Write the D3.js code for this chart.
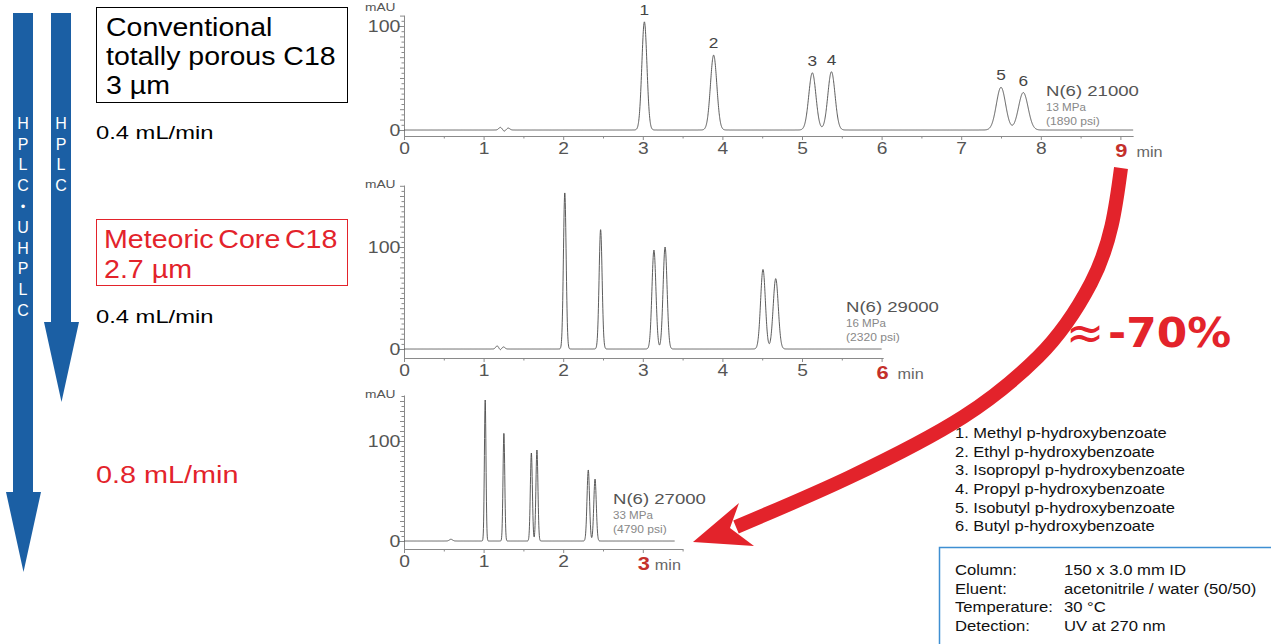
<!DOCTYPE html>
<html><head><meta charset="utf-8">
<script src="https://cdn.jsdelivr.net/npm/d3@7"></script>
<style>
html,body{margin:0;padding:0;background:#fff;}
svg{display:block;}
</style></head><body>
<svg id="c" width="1271" height="644"></svg>
<script>
// ================= DATA =================
const compounds = [
  "Methyl p-hydroxybenzoate",
  "Ethyl p-hydroxybenzoate",
  "Isopropyl p-hydroxybenzoate",
  "Propyl p-hydroxybenzoate",
  "Isobutyl p-hydroxybenzoate",
  "Butyl p-hydroxybenzoate"
];
const peakIds = [1, 2, 3, 4, 5, 6];

// Run 1: conventional totally porous C18 3 µm, 0.4 mL/min
const rt1 = [3.02, 3.89, 5.13, 5.37, 7.50, 7.78];     // retention time (min)
const h1  = [104, 72, 55, 56, 41, 36];                 // height (mAU)
const w1  = [0.032, 0.040, 0.045, 0.045, 0.058, 0.060];// peak sigma (min)
const art1T = [1.21, 1.26, 1.31], art1H = [2.5, -1.2, 1.8], art1W = [0.02, 0.015, 0.02];

// Run 2: Meteoric Core C18 2.7 µm, 0.4 mL/min
const rt2 = [2.02, 2.47, 3.14, 3.28, 4.51, 4.67];
const h2  = [153, 117, 97, 100, 78, 69];
const w2  = [0.017, 0.019, 0.025, 0.025, 0.030, 0.032];
const art2T = [1.17, 1.21, 1.25], art2H = [3.0, -1.0, 2.0], art2W = [0.018, 0.012, 0.018];

// Run 3: Meteoric Core C18 2.7 µm, 0.8 mL/min
const rt3 = [1.02, 1.255, 1.60, 1.67, 2.315, 2.40];
const h3  = [141, 108, 88, 91, 71, 62];
const w3  = [0.010, 0.011, 0.0127, 0.0127, 0.0157, 0.0157];
const art3T = [0.59], art3H = [1.7], art3W = [0.02];

const runEnd      = [9.16, 6.0, 3.4];
const lastTick    = [9, 6, 3];
const plateCounts = ["N(6) 21000", "N(6) 29000", "N(6) 27000"];
const pressMPa    = ["13 MPa", "16 MPa", "33 MPa"];
const pressPsi    = ["(1890 psi)", "(2320 psi)", "(4790 psi)"];
const yLabels     = [0, 100];

const conditionLabels = ["Column:", "Eluent:", "Temperature:", "Detection:"];
const conditionValues = ["150 x 3.0 mm ID", "acetonitrile / water (50/50)", "30 °C", "UV at 270 nm"];
const reduction = "-70%";

// ================= DRAWING =================
const FONT = "'Liberation Sans', Arial, Helvetica, sans-serif";
const RED = "#e3232b", BLUE = "#1b5fa4", TXT = "#555";
const svg = d3.select("#c").attr("font-family", FONT);

function label(g, x, y, s, o = {}) {
  const t = g.append("text")
    .attr("transform", `translate(${x},${y}) scale(${o.sx || 1},1)`)
    .attr("font-size", o.size || 14)
    .attr("fill", o.fill || "#000")
    .attr("text-anchor", o.anchor || "start")
    .text(s);
  if (o.weight) t.attr("font-weight", o.weight);
  if (o.family) t.attr("font-family", o.family);
  if (o.ws != null) t.attr("word-spacing", o.ws);
  return t;
}

// ---- blue arrows ----
const blueArrows = [
  {sl: 13, sr: 33, hl: 6, hr: 41, top: 13, ht: 492, tip: 572, letters: ["H","P","L","C","•","U","H","P","L","C"]},
  {sl: 51, sr: 71, hl: 44, hr: 79, top: 13, ht: 322, tip: 402, letters: ["H","P","L","C"]}
];
blueArrows.forEach(a => {
  const cx = (a.hl + a.hr) / 2;
  const p = d3.path();
  p.moveTo(a.sl, a.top); p.lineTo(a.sr, a.top); p.lineTo(a.sr, a.ht); p.lineTo(a.hr, a.ht);
  p.lineTo(cx, a.tip); p.lineTo(a.hl, a.ht); p.lineTo(a.sl, a.ht); p.closePath();
  svg.append("path").attr("d", p.toString()).attr("fill", BLUE);
  a.letters.forEach((L, i) => {
    svg.append("text").attr("x", (a.sl + a.sr) / 2).attr("y", 123 + i * 20.8)
      .attr("dy", "0.36em").attr("text-anchor", "middle")
      .attr("font-size", L === "•" ? 13 : 16).attr("fill", "#fff").text(L);
  });
});

// ---- left labels ----
svg.append("rect").attr("x", 96.5).attr("y", 7.5).attr("width", 251).attr("height", 95)
  .attr("fill", "none").attr("stroke", "#000").attr("stroke-width", 1);
label(svg, 106, 36, "Conventional", {size: 25, sx: 1.14});
label(svg, 106, 65, "totally porous C18", {size: 25, sx: 1.14});
label(svg, 106, 94, "3 µm", {size: 25, sx: 1.14});
label(svg, 96, 139, "0.4 mL/min", {size: 19, sx: 1.25});

svg.append("rect").attr("x", 96.5).attr("y", 219.5).attr("width", 251).attr("height", 66)
  .attr("fill", "none").attr("stroke", RED).attr("stroke-width", 1);
label(svg, 104, 248, "Meteoric Core C18", {size: 26, sx: 1.1, fill: RED, ws: -3});
label(svg, 104, 278, "2.7 µm", {size: 26, sx: 1.1, fill: RED});
label(svg, 96, 323, "0.4 mL/min", {size: 19, sx: 1.25});
label(svg, 96, 483, "0.8 mL/min", {size: 24, sx: 1.2, fill: RED});

// ---- chromatograms ----
const runs = [
  {rt: rt1, h: h1, w: w1, aT: art1T, aH: art1H, aW: art1W, i: 0,
   base: 130, ppu: 1.04, top: 15, axisY: 136, axisEnd: 9.16, mauY: 11,
   ann: [1046, 96], minDx: 16, showIds: true},
  {rt: rt2, h: h2, w: w2, aT: art2T, aH: art2H, aW: art2W, i: 1,
   base: 349, ppu: 1.02, top: 185, axisY: 358, axisEnd: 6.02, mauY: 188,
   ann: [846, 312], minDx: 16, showIds: false},
  {rt: rt3, h: h3, w: w3, aT: art3T, aH: art3H, aW: art3W, i: 2,
   base: 541, ppu: 1.0, top: 395, axisY: 549, axisEnd: 3.5, mauY: 398,
   ann: [613, 504], minDx: 12, showIds: false}
];
const X0 = 404, PPM = 79.6;

runs.forEach(c => {
  const g = svg.append("g");
  const x = d3.scaleLinear().domain([0, c.axisEnd]).range([X0, X0 + c.axisEnd * PPM]);
  const y = d3.scaleLinear()
    .domain([(c.base - c.axisY) / c.ppu, (c.base - c.top) / c.ppu])
    .range([c.axisY, c.top]);

  // y axis
  const yTopVal = y.domain()[1];
  const ay = d3.axisLeft(y).tickValues(d3.range(0, yTopVal, 5)).tickSizeOuter(0)
    .tickFormat(d => yLabels.includes(d) ? d : "");
  const yg = g.append("g").attr("transform", `translate(${X0},0)`).call(ay);
  yg.attr("font-family", FONT);
  yg.select(".domain").attr("stroke", "#8a8a8a");
  yg.selectAll(".tick line").attr("stroke", "#8a8a8a")
    .attr("x2", d => yLabels.includes(d) ? -6 : (d % 10 === 0 ? -4 : -2.5));
  yg.selectAll(".tick text").attr("x", -3).attr("dy", "0.36em")
    .attr("font-size", 16).attr("fill", TXT).attr("transform", "scale(1.22,1)");
  label(g, 365, c.mauY, "mAU", {size: 11, sx: 1.25, fill: TXT});

  // x axis
  const ax = d3.axisBottom(x).tickValues(d3.range(0, c.axisEnd + 1e-6, 0.5))
    .tickSizeOuter(0).tickFormat(d => (Number.isInteger(d) && d < lastTick[c.i]) ? d : "");
  const xg = g.append("g").attr("transform", `translate(0,${c.axisY})`).call(ax);
  xg.attr("font-family", FONT);
  xg.select(".domain").attr("stroke", "#8a8a8a");
  xg.selectAll(".tick line").attr("stroke", "#8a8a8a").attr("y2", d => Number.isInteger(d) ? 4 : 2.5);
  xg.selectAll(".tick text").attr("y", 18).attr("dy", null)
    .attr("font-size", 16).attr("fill", TXT).attr("transform", "scale(1.2,1)");
  label(g, x(lastTick[c.i]) + 1, c.axisY + 21, String(lastTick[c.i]),
    {size: 19, sx: 1.15, fill: "#c4302b", weight: "bold", anchor: "middle"});
  label(g, x(lastTick[c.i]) + c.minDx, c.axisY + 21, "min", {size: 15, sx: 1.08, fill: "#666"});

  // signal (sum of peaks)
  const sig = t => {
    let s = 0;
    c.rt.forEach((r, k) => { s += c.h[k] * Math.exp(-((t - r) ** 2) / (2 * c.w[k] ** 2)); });
    c.aT.forEach((r, k) => { s += c.aH[k] * Math.exp(-((t - r) ** 2) / (2 * c.aW[k] ** 2)); });
    return s;
  };
  const pts = d3.range(0, runEnd[c.i] + 1e-9, 0.002).map(t => [t, sig(t)]);
  g.append("path")
    .attr("d", d3.line().x(d => x(d[0])).y(d => y(d[1]))(pts))
    .attr("fill", "none").attr("stroke", "#4a4a4a").attr("stroke-width", 0.9);

  // peak numbers
  if (c.showIds) {
    peakIds.forEach((id, k) => {
      label(g, x(c.rt[k]), y(c.h[k]) - 7, String(id), {size: 15, sx: 1.15, fill: "#444", anchor: "middle"});
    });
  }

  // annotations
  label(g, c.ann[0], c.ann[1], plateCounts[c.i], {size: 15, sx: 1.24, fill: TXT});
  label(g, c.ann[0], c.ann[1] + 15, pressMPa[c.i], {size: 10, sx: 1.16, fill: "#888"});
  label(g, c.ann[0], c.ann[1] + 29, pressPsi[c.i], {size: 10, sx: 1.21, fill: "#888"});
});

// ---- big red arrow ----
const curvePts = [[1121, 168], [1091, 283], [1038, 357], [963, 417], [850, 477], [736, 527]];
svg.append("path")
  .attr("d", d3.line().curve(d3.curveMonotoneY)(curvePts))
  .attr("fill", "none").attr("stroke", RED).attr("stroke-width", 14).attr("stroke-linecap", "butt");
svg.append("path")
  .attr("d", "M693,542 L739,503 L730,528 L754,546 Z")
  .attr("fill", RED);

// ---- reduction label ----
label(svg, 1066, 349, "≈", {size: 48, family: "'DejaVu Sans', sans-serif", fill: RED, sx: 0.95});
label(svg, 1108, 347, reduction, {size: 41, family: "'DejaVu Sans', sans-serif", weight: "bold", fill: RED, sx: 1.07});

// ---- compound list ----
compounds.forEach((s, k) => {
  label(svg, 955, 438 + k * 18.67, `${peakIds[k]}. ${s}`, {size: 15, sx: 1.1, fill: "#111"});
});

// ---- conditions box ----
svg.append("path").attr("d", "M1275,547.5 H939.5 V650")
  .attr("fill", "none").attr("stroke", "#3f8fd2").attr("stroke-width", 1.5);
conditionLabels.forEach((s, k) => {
  label(svg, 955, 575 + k * 18.7, s, {size: 15, sx: 1.11, fill: "#111"});
  label(svg, 1064, 575 + k * 18.7, conditionValues[k], {size: 15, sx: 1.11, fill: "#111"});
});
</script>
</body></html>
